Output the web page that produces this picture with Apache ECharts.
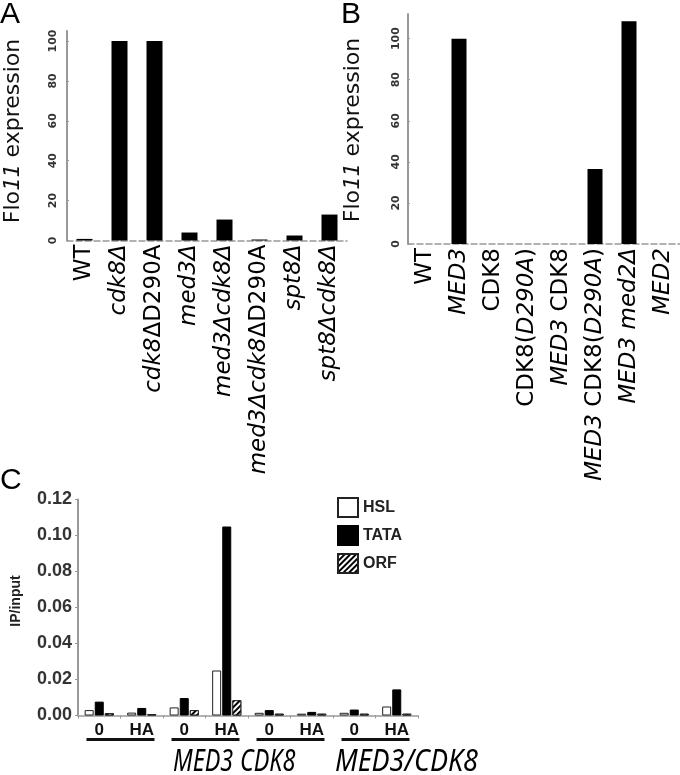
<!DOCTYPE html>
<html><head><meta charset="utf-8">
<script src="https://cdn.jsdelivr.net/npm/echarts@6/dist/echarts.min.js"></script>
<style>html,body{margin:0;padding:0;background:#fff}#c{width:680px;height:775px}</style>
</head><body><div id="c"></div>
<script>
// ---- Data ----
const categoriesA = ['WT','cdk8Δ','cdk8ΔD290A','med3Δ','med3Δcdk8Δ','med3Δcdk8ΔD290A','spt8Δ','spt8Δcdk8Δ'];
const valuesA = [0.8, 100, 100, 4, 10.5, 0.5, 2.5, 13];
const categoriesB = ['WT','MED3','CDK8','CDK8(D290A)','MED3 CDK8','MED3 CDK8(D290A)','MED3 med2Δ','MED2'];
const valuesB = [0, 100, 0, 0, 0, 36.5, 108.5, 0];
const ticksAB = [0, 20, 40, 60, 80, 100];
const categoriesC = ['0','HA','0','HA','0','HA','0','HA'];
const groupsC = ['', 'MED3', 'CDK8', 'MED3/CDK8'];
const hslC  = [0.003, 0.0016, 0.0045, 0.025, 0.0015, 0.001, 0.0015, 0.005];
const tataC = [0.0077, 0.0042, 0.0097, 0.105, 0.003, 0.002, 0.0033, 0.0145];
const orfC  = [0.0013, 0.0008, 0.003, 0.0085, 0.001, 0.001, 0.001, 0.001];

// label markup (italic gene names)
const markupA = {
  'WT':'WT','cdk8Δ':'{i|cdk8Δ}','cdk8ΔD290A':'{i|cdk8}ΔD290A','med3Δ':'{i|med3Δ}',
  'med3Δcdk8Δ':'{i|med3Δcdk8Δ}','med3Δcdk8ΔD290A':'{i|med3Δcdk8}ΔD290A',
  'spt8Δ':'{i|spt8Δ}','spt8Δcdk8Δ':'{i|spt8Δcdk8Δ}'
};
const markupB = {
  'WT':'WT','MED3':'{i|MED3}','CDK8':'CDK8','CDK8(D290A)':'CDK8({i|D290A})',
  'MED3 CDK8':'{i|MED3} CDK8','MED3 CDK8(D290A)':'{i|MED3} CDK8({i|D290A})',
  'MED3 med2Δ':'{i|MED3 med2Δ}','MED2':'{i|MED2}'
};

const FF = 'DejaVu Sans';
const LFS = 23;
const catLabel = (markup) => ({
  rotate: 90, interval: 0, margin: 4, fontSize: LFS, fontFamily: FF, color: '#000',
  formatter: v => markup[v] || v,
  rich: { i: { fontStyle: 'italic', fontSize: LFS, fontFamily: FF, color: '#000' } }
});
const tickLabelAB = (margin) => ({
  rotate: 90, fontSize: 11, fontWeight: 'bold', fontFamily: FF, color: '#333', margin,
  customValues: ticksAB
});

const option = {
  animation: false,
  backgroundColor: '#fff',
  grid: [
    { left: 67, top: 31, width: 280, height: 209.5 },
    { left: 408, top: 14, width: 272, height: 230 },
    { left: 78, top: 499.5, width: 340, height: 216 }
  ],
  legend: {
    data: ['HSL','TATA','ORF'], orient: 'vertical', left: 337, top: 497, padding: 0,
    itemWidth: 20, itemHeight: 19, itemGap: 7, icon: 'rect',
    textStyle: { fontSize: 16, fontWeight: 'bold', fontFamily: 'Liberation Sans', color: '#222' }
  },
  xAxis: [
    { type: 'category', gridIndex: 0, data: categoriesA,
      axisLine: { lineStyle: { color: '#999', type: 'dashed', width: 1.5 } },
      axisTick: { show: false }, axisLabel: catLabel(markupA) },
    { type: 'category', gridIndex: 1, data: categoriesB,
      axisLine: { lineStyle: { color: '#999', type: 'dashed', width: 1.5 } },
      axisTick: { show: false }, axisLabel: catLabel(markupB) },
    { type: 'category', gridIndex: 2, data: categoriesC,
      axisLine: { lineStyle: { color: '#999', width: 1.5 } },
      axisTick: { show: true, length: 3, lineStyle: { color: '#999' } },
      axisLabel: { interval: 0, margin: 6, fontSize: 17, fontWeight: 'bold', fontFamily: 'Liberation Sans', color: '#111' } }
  ],
  yAxis: [
    { type: 'value', gridIndex: 0, min: 0, max: 105, splitLine: { show: false },
      axisLine: { show: true, lineStyle: { color: '#999', width: 2 } },
      axisTick: { show: true, inside: true, length: 2, customValues: ticksAB, lineStyle: { color: '#999' } },
      axisLabel: tickLabelAB(8) },
    { type: 'value', gridIndex: 1, min: 0, max: 112, splitLine: { show: false },
      axisLine: { show: true, lineStyle: { color: '#999', width: 2 } },
      axisTick: { show: true, inside: true, length: 2, customValues: ticksAB, lineStyle: { color: '#999' } },
      axisLabel: tickLabelAB(6) },
    { type: 'value', gridIndex: 2, min: 0, max: 0.12, interval: 0.02, splitLine: { show: false },
      axisLine: { show: true, lineStyle: { color: '#999', width: 2 } },
      axisTick: { show: true, length: 3, lineStyle: { color: '#999' } },
      axisLabel: { margin: 6, fontSize: 18, fontWeight: 'bold', fontFamily: 'Liberation Sans', color: '#333',
        formatter: v => v.toFixed(2) } }
  ],
  series: [
    { type: 'bar', xAxisIndex: 0, yAxisIndex: 0, data: valuesA, barWidth: 16, itemStyle: { color: '#000' } },
    { type: 'bar', xAxisIndex: 1, yAxisIndex: 1, data: valuesB, barWidth: 15, itemStyle: { color: '#000' } },
    { name: 'HSL', type: 'bar', xAxisIndex: 2, yAxisIndex: 2, data: hslC, barWidth: 9, barGap: '12%',
      itemStyle: { color: '#fff', borderColor: '#222', borderWidth: 1 } },
    { name: 'TATA', type: 'bar', xAxisIndex: 2, yAxisIndex: 2, data: tataC, barWidth: 9, barGap: '12%',
      itemStyle: { color: '#000', borderColor: '#000', borderWidth: 1 } },
    { name: 'ORF', type: 'bar', xAxisIndex: 2, yAxisIndex: 2, data: orfC, barWidth: 9, barGap: '12%',
      itemStyle: { color: '#fff', borderColor: '#222', borderWidth: 1,
        decal: { symbol: 'rect', symbolSize: 1, dashArrayX: [[1, 0]], dashArrayY: [2, 2], rotation: -Math.PI / 4,
          color: '#000', backgroundColor: '#fff' } } }
  ]
};

const chart = echarts.init(document.getElementById('c'), null, { renderer: 'canvas' });
chart.setOption(option);

// annotations: panel letters, axis titles, group underlines, group names
const flo = (x, y) => ({
  type: 'text', x, y, rotation: Math.PI / 2,
  style: { text: 'Flo{m|11} expression', fontSize: 22, fontFamily: FF, fill: '#111',
    textAlign: 'center', textVerticalAlign: 'middle',
    rich: { m: { fontFamily: 'DejaVu Sans Mono', fontStyle: 'italic', fontSize: 22, fill: '#111' } } }
});
const graphics = [
  { type: 'text', x: 0, y: 0, style: { text: 'A', fontSize: 30, fontFamily: 'Liberation Sans', fill: '#000', textVerticalAlign: 'top' } },
  { type: 'text', x: 341, y: 0, style: { text: 'B', fontSize: 30, fontFamily: 'Liberation Sans', fill: '#000', textVerticalAlign: 'top' } },
  { type: 'text', x: 0, y: 466, style: { text: 'C', fontSize: 30, fontFamily: 'Liberation Sans', fill: '#000', textVerticalAlign: 'top' } },
  flo(13, 131), flo(353, 130),
  { type: 'text', x: 16, y: 601, rotation: Math.PI / 2,
    style: { text: 'IP/input', fontSize: 14, fontWeight: 'bold', fontFamily: 'Liberation Sans', fill: '#222',
      textAlign: 'center', textVerticalAlign: 'middle' } }
];
for (let g = 0; g < groupsC.length; g++) {
  const x0 = chart.convertToPixel({ xAxisIndex: 2 }, 2 * g);
  const x1 = chart.convertToPixel({ xAxisIndex: 2 }, 2 * g + 1);
  const mid = (x0 + x1) / 2;
  graphics.push({ type: 'rect', shape: { x: mid - 34, y: 738, width: 68, height: 3 }, style: { fill: '#111' } });
}
const groupLabelPos = [null, 173, 240, 335];
const groupLabelScale = [null, 0.78, 0.78, 0.9];
for (let g = 1; g < groupsC.length; g++) {
  graphics.push({ type: 'text', x: groupLabelPos[g], y: 762, scaleX: groupLabelScale[g],
    style: { text: groupsC[g], fontSize: 30, fontStyle: 'italic', fontFamily: 'Noto Sans', fill: '#000',
      textVerticalAlign: 'middle' } });
}
chart.setOption({ graphic: graphics });
</script></body></html>
